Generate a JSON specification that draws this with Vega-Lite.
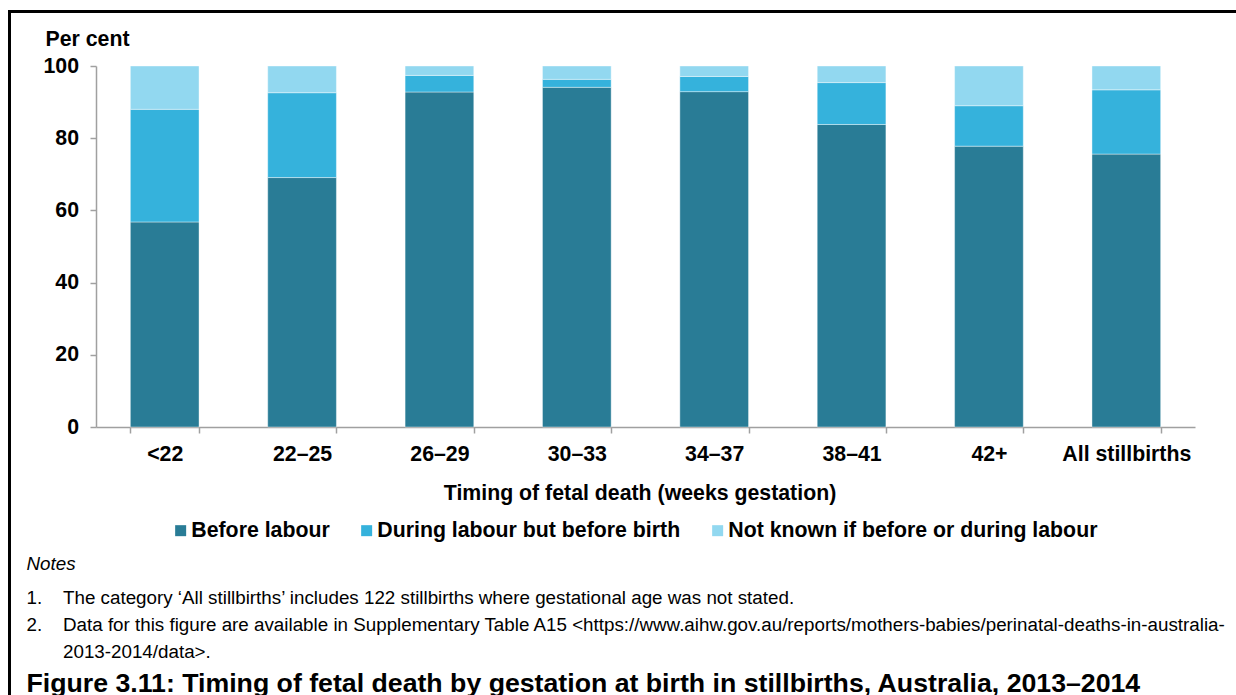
{
  "$schema": "https://vega.github.io/schema/vega-lite/v6.json",
  "background": "white",
  "padding": {"left": 8, "top": 10, "right": 0, "bottom": 0},
  "config": {"font": "Liberation Sans", "view": {"stroke": null}},
  "spacing": 0,
  "align": "none",
  "vconcat": [
    {
      "data": {"values": []},
      "mark": "point",
      "width": 1228,
      "height": 3,
      "view": {"fill": "black", "stroke": null}
    },
    {
      "spacing": 15,
      "align": "none",
      "hconcat": [
        {
          "data": {"values": []},
          "mark": "point",
          "width": 3,
          "height": 682,
          "view": {"fill": "black", "stroke": null}
        },
        {
          "spacing": 14,
          "align": "none",
          "title": {
            "text": "Figure 3.11: Timing of fetal death by gestation at birth in stillbirths, Australia, 2013–2014",
            "orient": "bottom",
            "anchor": "start",
            "frame": "bounds",
            "offset": 9,
            "font": "Liberation Sans",
            "fontSize": 26.7,
            "fontWeight": "bold",
            "color": "black"
          },
          "vconcat": [
            {
              "data": {"values": []},
              "mark": "point",
              "width": 1,
              "height": 1,
              "view": {"fill": null, "stroke": null}
            },
            {
              "width": 1099,
              "height": 361,
              "view": {"stroke": null},
              "title": {
                "text": "Notes",
                "subtitle": [
                  "1.\u00a0\u00a0\u00a0\u00a0The category ‘All stillbirths’ includes 122 stillbirths where gestational age was not stated.",
                  "2.\u00a0\u00a0\u00a0\u00a0Data for this figure are available in Supplementary Table A15 <https://www.aihw.gov.au/reports/mothers-babies/perinatal-deaths-in-australia-",
                  "\u200b\u00a0\u00a0\u00a0\u00a0\u00a0\u00a0\u00a02013-2014/data>."
                ],
                "orient": "bottom",
                "anchor": "start",
                "frame": "bounds",
                "dx": -16.5,
                "offset": 52,
                "font": "Liberation Sans",
                "fontSize": 18.8,
                "fontStyle": "italic",
                "fontWeight": "normal",
                "color": "black",
                "subtitleFont": "Liberation Sans",
                "subtitleFontSize": 18.8,
                "subtitleFontWeight": "normal",
                "subtitleColor": "black",
                "subtitleLineHeight": 27,
                "subtitlePadding": 15
              },
              "data": {
                "values": [
                  {"gestation": "<22", "timing": "Before labour", "percent": 56.8},
                  {"gestation": "<22", "timing": "During labour but before birth", "percent": 31.2},
                  {"gestation": "<22", "timing": "Not known if before or during labour", "percent": 12.0},
                  {"gestation": "22–25", "timing": "Before labour", "percent": 69.1},
                  {"gestation": "22–25", "timing": "During labour but before birth", "percent": 23.5},
                  {"gestation": "22–25", "timing": "Not known if before or during labour", "percent": 7.4},
                  {"gestation": "26–29", "timing": "Before labour", "percent": 92.8},
                  {"gestation": "26–29", "timing": "During labour but before birth", "percent": 4.6},
                  {"gestation": "26–29", "timing": "Not known if before or during labour", "percent": 2.6},
                  {"gestation": "30–33", "timing": "Before labour", "percent": 94.1},
                  {"gestation": "30–33", "timing": "During labour but before birth", "percent": 2.2},
                  {"gestation": "30–33", "timing": "Not known if before or during labour", "percent": 3.7},
                  {"gestation": "34–37", "timing": "Before labour", "percent": 92.9},
                  {"gestation": "34–37", "timing": "During labour but before birth", "percent": 4.2},
                  {"gestation": "34–37", "timing": "Not known if before or during labour", "percent": 2.9},
                  {"gestation": "38–41", "timing": "Before labour", "percent": 83.8},
                  {"gestation": "38–41", "timing": "During labour but before birth", "percent": 11.6},
                  {"gestation": "38–41", "timing": "Not known if before or during labour", "percent": 4.6},
                  {"gestation": "42+", "timing": "Before labour", "percent": 77.8},
                  {"gestation": "42+", "timing": "During labour but before birth", "percent": 11.2},
                  {"gestation": "42+", "timing": "Not known if before or during labour", "percent": 11.0},
                  {"gestation": "All stillbirths", "timing": "Before labour", "percent": 75.6},
                  {"gestation": "All stillbirths", "timing": "During labour but before birth", "percent": 17.8},
                  {"gestation": "All stillbirths", "timing": "Not known if before or during labour", "percent": 6.6}
                ]
              },
              "mark": {"type": "bar", "stroke": "white", "strokeOpacity": 0.4, "strokeWidth": 1},
              "encoding": {
                "x": {
                  "field": "gestation",
                  "type": "nominal",
                  "sort": ["<22", "22–25", "26–29", "30–33", "34–37", "38–41", "42+", "All stillbirths"],
                  "scale": {"paddingInner": 0.5, "paddingOuter": 0.25},
                  "axis": {
                    "title": "Timing of fetal death (weeks gestation)",
                    "labelAngle": 0,
                    "labelFont": "Liberation Sans",
                    "labelFontSize": 21.3,
                    "labelFontWeight": "bold",
                    "labelColor": "black",
                    "labelPadding": 10,
                    "tickBand": "extent",
                    "tickSize": 6,
                    "tickWidth": 1.5,
                    "tickColor": "#a0a0a0",
                    "domainColor": "#a0a0a0",
                    "domainWidth": 1.5,
                    "titleFont": "Liberation Sans",
                    "titleFontSize": 21.3,
                    "titleFontWeight": "bold",
                    "titleColor": "black",
                    "titleBaseline": "alphabetic",
                    "titleAlign": "center",
                    "titleX": 543.5,
                    "titleY": 72
                  }
                },
                "y": {
                  "field": "percent",
                  "type": "quantitative",
                  "stack": "zero",
                  "scale": {"domain": [0, 100], "nice": false},
                  "axis": {
                    "title": "Per cent",
                    "values": [0, 20, 40, 60, 80, 100],
                    "grid": false,
                    "labelFont": "Liberation Sans",
                    "labelFontSize": 21.3,
                    "labelFontWeight": "bold",
                    "labelColor": "black",
                    "labelPadding": 11.5,
                    "labelFlush": false,
                    "labelOverlap": false,
                    "tickSize": 6,
                    "tickWidth": 1.5,
                    "tickColor": "#a0a0a0",
                    "domainColor": "#a0a0a0",
                    "domainWidth": 1.5,
                    "titleAngle": 0,
                    "titleAlign": "left",
                    "titleBaseline": "alphabetic",
                    "titleX": -51,
                    "titleY": -21,
                    "titleFont": "Liberation Sans",
                    "titleFontSize": 21.3,
                    "titleFontWeight": "bold",
                    "titleColor": "black"
                  }
                },
                "order": {"field": "timing", "type": "nominal", "sort": "ascending"},
                "color": {
                  "field": "timing",
                  "type": "nominal",
                  "scale": {
                    "domain": ["Before labour", "During labour but before birth", "Not known if before or during labour"],
                    "range": ["#297C96", "#35B2DC", "#92D8F0"]
                  },
                  "legend": {
                    "title": null,
                    "orient": "none",
                    "direction": "horizontal",
                    "legendX": 162,
                    "legendY": 510,
                    "padding": 0,
                    "symbolType": "square",
                    "symbolSize": 121,
                    "symbolStrokeWidth": 0,
                    "labelFont": "Liberation Sans",
                    "labelFontSize": 21.3,
                    "labelFontWeight": "bold",
                    "labelColor": "black",
                    "labelOffset": 0,
                    "labelLimit": 1000,
                    "columnPadding": 26
                  }
                }
              }
            }
          ]
        }
      ]
    }
  ]
}
